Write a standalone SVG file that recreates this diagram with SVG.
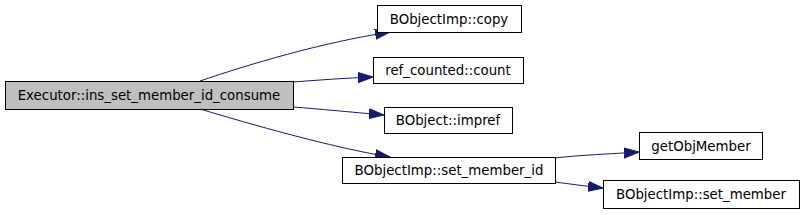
<svg xmlns="http://www.w3.org/2000/svg" width="803" height="215" viewBox="0 0 803 215">
<style>
.n rect{fill:#ffffff;stroke:#000000;stroke-width:1}
.n.root rect{fill:#bfbfbf}
.n text{font-family:"DejaVu Sans",sans-serif;font-size:13.33px;fill:#000000;text-anchor:middle}
.e path{fill:none;stroke:#191970;stroke-width:1}
</style>
<defs>
<marker id="ah" markerUnits="userSpaceOnUse" markerWidth="16" markerHeight="12" refX="15" refY="5" orient="auto" viewBox="0 0 16 10">
<path d="M0,0 L15,5 L0,10 z" fill="#191970" stroke="#191970"/>
</marker>
</defs>
<g id="edges" class="e">
<path d="M200,81 C250,64 320,43 390,32" marker-end="url(#ah)"/>
<path d="M293,82 C320,80 345,78 373,77" marker-end="url(#ah)"/>
<path d="M293,107 C320,109 350,112 384,115" marker-end="url(#ah)"/>
<path d="M200,109 C250,124 330,147 390,157" marker-end="url(#ah)"/>
<path d="M555,158 C580,155 610,154 639,152" marker-end="url(#ah)"/>
<path d="M555,182 C570,184 585,186 603,188" marker-end="url(#ah)"/>
</g>
<g id="node_main" class="n root">
<rect x="5.5" y="81.5" width="288" height="28"/>
<text x="149" y="100">Executor::ins_set_member_id_consume</text>
</g>
<g id="node_copy" class="n">
<rect x="377.5" y="5.5" width="144" height="27"/>
<text x="449" y="23.5">BObjectImp::copy</text>
</g>
<g id="node_count" class="n">
<rect x="373.5" y="57.5" width="150" height="26"/>
<text x="448" y="75">ref_counted::count</text>
</g>
<g id="node_impref" class="n">
<rect x="384.5" y="107.5" width="128" height="26"/>
<text x="448" y="125">BObject::impref</text>
</g>
<g id="node_set_member_id" class="n">
<rect x="342.5" y="157.5" width="213" height="26"/>
<text x="449" y="175">BObjectImp::set_member_id</text>
</g>
<g id="node_getObjMember" class="n">
<rect x="639.5" y="132.5" width="123" height="27"/>
<text x="701" y="150.5">getObjMember</text>
</g>
<g id="node_set_member" class="n">
<rect x="603.5" y="180.5" width="196" height="28"/>
<text x="701" y="199">BObjectImp::set_member</text>
</g>
</svg>
